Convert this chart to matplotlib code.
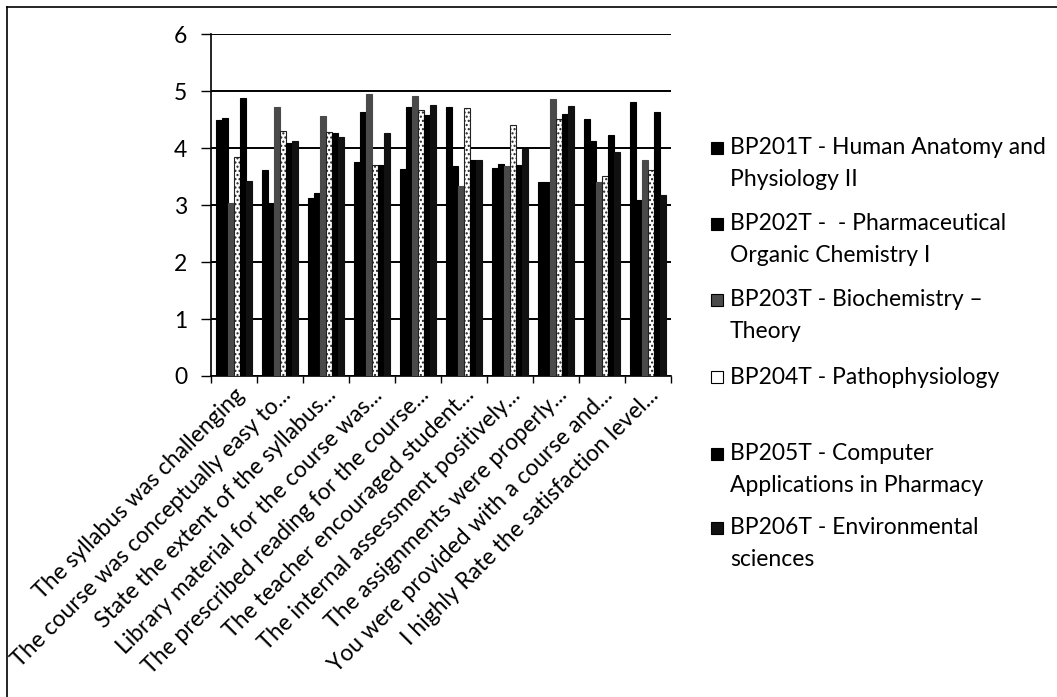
import matplotlib
matplotlib.use('Agg')
import numpy as np
from matplotlib import pyplot as plt
from matplotlib.lines import Line2D

plt.rcParams['font.family'] = ['Lato', 'DejaVu Sans']

# questions (category labels, as cut by the original chart)
questions = [
    "The syllabus was challenging",
    "The course was conceptually easy to...",
    "State the extent of the syllabus...",
    "Library material for the course was...",
    "The prescribed reading for the course...",
    "The teacher encouraged student...",
    "The internal assessment positively...",
    "The assignments were properly...",
    "You were provided with a course and...",
    "I highly Rate the satisfaction level...",
]

subjects = [
    "BP201T - Human Anatomy and\nPhysiology II",
    "BP202T -  - Pharmaceutical\nOrganic Chemistry I",
    "BP203T - Biochemistry \u2013\nTheory",
    "BP204T - Pathophysiology",
    "BP205T - Computer\nApplications in Pharmacy",
    "BP206T - Environmental\nsciences",
]

bp201 = [4.49, 3.61, 3.13, 3.75, 3.63, 4.72, 3.65, 3.40, 4.51, 4.81]
bp202 = [4.53, 3.04, 3.22, 4.64, 4.72, 3.69, 3.73, 3.40, 4.13, 3.09]
bp203 = [3.04, 4.72, 4.57, 4.95, 4.92, 3.34, 3.69, 4.86, 3.41, 3.79]
bp204 = [3.84, 4.30, 4.28, 3.70, 4.67, 4.71, 4.40, 4.51, 3.51, 3.61]
bp205 = [4.89, 4.10, 4.27, 3.70, 4.58, 3.79, 3.71, 4.60, 4.23, 4.64]
bp206 = [3.43, 4.12, 4.19, 4.26, 4.75, 3.79, 3.99, 4.74, 3.93, 3.18]

series = [bp201, bp202, bp203, bp204, bp205, bp206]

# look of the scanned (black and white) chart
faces = ['black', 'black', '#4a4a4a', 'white', 'black', '#111111']
edges = ['black', 'black', '#4a4a4a', '#222222', 'black', '#111111']
hatches = [None, None, '....', '....', None, None]

W, H = 1057, 697
fig = plt.figure(figsize=(W / 100, H / 100), dpi=100)
ax = fig.add_axes([210.7 / W, 1 - 376 / H, (671 - 210.7) / W, (376 - 34.3) / H])

plt.rcParams['hatch.color'] = '#9a9a9a'
x = np.arange(len(questions))
bw = 0.13
for i, vals in enumerate(series):
    ax.bar(x + (i - 2.5) * bw, vals, bw, color=faces[i], edgecolor=edges[i],
           hatch=hatches[i], linewidth=0.8, zorder=3)

ax.set_xlim(-0.5, len(questions) - 0.5)
ax.set_ylim(0, 6)
ax.set_yticks(range(7))
ax.yaxis.grid(True, color='black', linewidth=1.4, zorder=1)
ax.tick_params(axis='y', length=7, width=1, labelsize=16.5, pad=10)

ax.set_xticks(x)
ax.set_xticklabels(questions, rotation=45, ha='right', va='top',
                   rotation_mode='anchor', fontsize=16.5)
ax.set_xticks(np.arange(-0.5, len(questions)), minor=True)
ax.tick_params(axis='x', which='major', length=0, pad=6)
ax.tick_params(axis='x', which='minor', length=5, width=1)

for side in ['top', 'right']:
    ax.spines[side].set_visible(False)
ax.spines['left'].set_linewidth(1.2)
ax.spines['bottom'].set_linewidth(1.2)

# legend drawn by hand: marker on first line, text top aligned
leg_y = [148, 224, 300, 377, 454, 528]
for i, lab in enumerate(subjects):
    yy = leg_y[i]
    fig.add_artist(Line2D([717 / W], [1 - yy / H], marker='s', markersize=8,
                          markerfacecolor=faces[i], markeredgecolor='black',
                          markeredgewidth=0.8, linestyle='none'))
    for j, line in enumerate(lab.split('\n')):
        fig.text(730 / W, 1 - (yy + 31 * j) / H, line, fontsize=16.5, va='center')

# border of the scanned chart area
fig.add_artist(Line2D([7 / W, 7 / W], [0, 1 - 7 / H], color='black', linewidth=1.2))
fig.add_artist(Line2D([7 / W, 1], [1 - 7 / H, 1 - 7 / H], color='black', linewidth=1.2))

plt.savefig('out.png', dpi=100)
